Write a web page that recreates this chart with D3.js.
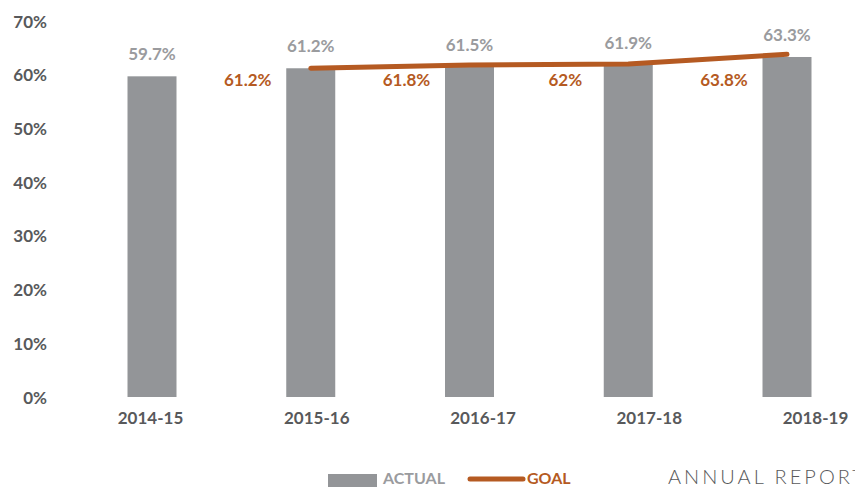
<!DOCTYPE html>
<html>
<head>
<meta charset="utf-8">
<script src="https://cdn.jsdelivr.net/npm/d3@7"></script>
<style>
  html, body { margin: 0; padding: 0; background: #fff; }
  svg { display: block; }
  text { font-family: Lato, "Open Sans", sans-serif; }
</style>
</head>
<body>
<svg id="chart" width="855" height="487"></svg>
<script>
  // valores
  var years = ['2014-15', '2015-16', '2016-17', '2017-18', '2018-19'];
  var actual = [59.7, 61.2, 61.5, 61.9, 63.3];
  var goalYears = ['2015-16', '2016-17', '2017-18', '2018-19'];
  var goal = [61.2, 61.8, 62, 63.8];
  var goalLabels = ['61.2%', '61.8%', '62%', '63.8%'];
  var yTicks = [0, 10, 20, 30, 40, 50, 60, 70];

  var barColor = '#939598';
  var goalColor = '#b55a22';
  var axisColor = '#58595b';

  var svg = d3.select('#chart');

  // escala y: 0% em 397, 70% em 21
  var y = d3.scaleLinear().domain([0, 70]).range([397, 21]);

  // rotulos do eixo x igualmente espacados
  var xLabel = d3.scalePoint().domain(years).range([150, 815]);
  // as barras ficam um pouco deslocadas em relacao aos rotulos
  var xBar = d3.scalePoint().domain(years).range([152, 787]);
  var barWidth = 49;

  // eixo y
  var yAxis = d3.axisLeft(y)
    .tickValues(yTicks)
    .tickSize(0)
    .tickPadding(0)
    .tickFormat(function (d) { return d + '%'; });

  var gy = svg.append('g')
    .attr('transform', 'translate(47,0)')
    .call(yAxis);
  gy.select('.domain').remove();
  gy.selectAll('text')
    .attr('fill', axisColor)
    .style('font-size', '17px')
    .style('font-weight', 'bold')
    .attr('dy', '0.36em');

  // eixo x
  var xAxis = d3.axisBottom(xLabel).tickSize(0).tickPadding(0);
  var gx = svg.append('g')
    .attr('transform', 'translate(0,411)')
    .call(xAxis);
  gx.select('.domain').remove();
  gx.selectAll('text')
    .attr('fill', axisColor)
    .attr('dy', '0.74em')
    .style('font-size', '17px')
    .style('font-weight', 'bold');

  // barras
  var data = years.map(function (yr, i) { return { year: yr, value: actual[i] }; });

  svg.append('g').selectAll('rect')
    .data(data)
    .enter().append('rect')
    .attr('x', function (d) { return xBar(d.year) - barWidth / 2; })
    .attr('y', function (d) { return y(d.value); })
    .attr('width', barWidth)
    .attr('height', function (d) { return y(0) - y(d.value); })
    .attr('fill', barColor);

  svg.append('g').selectAll('text')
    .data(data)
    .enter().append('text')
    .attr('x', function (d) { return xBar(d.year); })
    .attr('y', function (d) { return y(d.value) - 16; })
    .attr('text-anchor', 'middle')
    .attr('fill', '#9a9b9e')
    .style('font-size', '17px')
    .style('font-weight', 'bold')
    .text(function (d) { return d.value + '%'; });

  // linha da meta
  var goalData = goalYears.map(function (yr, i) { return { year: yr, value: goal[i], label: goalLabels[i] }; });

  var line = d3.line()
    .x(function (d) { return xBar(d.year); })
    .y(function (d) { return y(d.value); });

  svg.append('path')
    .datum(goalData)
    .attr('d', line)
    .attr('fill', 'none')
    .attr('stroke', goalColor)
    .attr('stroke-width', 5)
    .attr('stroke-linecap', 'round')
    .attr('stroke-linejoin', 'round');

  // rotulos da meta ficam todos numa mesma faixa abaixo da linha
  var goalLabelY = y(d3.min(goal)) + 18;
  svg.append('g').selectAll('text')
    .data(goalData)
    .enter().append('text')
    .attr('x', function (d) { return xBar(d.year) - 63; })
    .attr('y', goalLabelY)
    .attr('text-anchor', 'middle')
    .attr('fill', goalColor)
    .style('font-size', '17px')
    .style('font-weight', 'bold')
    .text(function (d) { return d.label; });

  // legenda
  var legend = svg.append('g');
  legend.append('rect')
    .attr('x', 328).attr('y', 474)
    .attr('width', 49).attr('height', 13)
    .attr('fill', barColor);
  legend.append('text')
    .attr('x', 383).attr('y', 484)
    .attr('fill', '#9a9b9e')
    .style('font-size', '16px')
    .style('font-weight', 'bold')
    .text('ACTUAL');
  legend.append('line')
    .attr('x1', 470).attr('x2', 523)
    .attr('y1', 479).attr('y2', 479)
    .attr('stroke', goalColor)
    .attr('stroke-width', 5)
    .attr('stroke-linecap', 'round');
  legend.append('text')
    .attr('x', 527).attr('y', 484)
    .attr('fill', goalColor)
    .style('font-size', '16px')
    .style('font-weight', 'bold')
    .text('GOAL');

  svg.append('text')
    .attr('x', 668).attr('y', 484)
    .attr('fill', '#58595b')
    .style('font-size', '20px')
    .style('font-weight', '300')
    .style('letter-spacing', '3px')
    .text('ANNUAL REPORT');
</script>
</body>
</html>
